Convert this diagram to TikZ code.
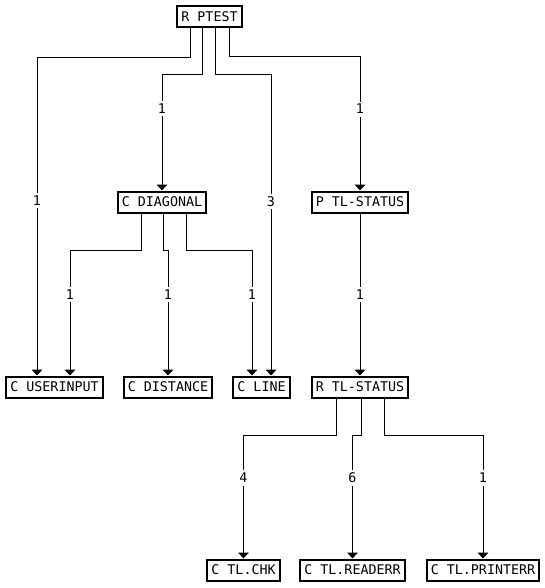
\documentclass[tikz,border=0pt]{standalone}
\usepackage{fontspec}
\setmonofont{DejaVu Sans Mono}
\usetikzlibrary{arrows.meta}

\begin{document}
\begin{tikzpicture}[
    x=0.75pt,y=-0.75pt,
    unit/.style={draw=black, line width=1.5pt, fill=white, font=\ttfamily, text height=7.3pt, text depth=0pt, inner xsep=3pt, inner ysep=0pt, minimum height=15.75pt},
    link/.style={draw=black, line width=0.75pt, -{Triangle[width=8pt,length=4.5pt]}},
    count/.style={font=\ttfamily, fill=white, inner sep=2pt}
  ]
    \useasboundingbox (0,0) rectangle (544,588);

    \node[unit] (ptest) at (209.5,17) {R PTEST};

    \node[unit] (diagonal) at (162,202) {C DIAGONAL};
    \node[unit] (pstatus) at (360,202) {P TL-STATUS};

    \node[unit] (userinput) at (54.5,387) {C USERINPUT};
    \node[unit] (distance) at (168,387) {C DISTANCE};
    \node[unit] (line) at (261.5,387) {C LINE};
    \node[unit] (rstatus) at (360,387) {R TL-STATUS};

    \node[unit] (tlchk) at (243.5,570) {C TL.CHK};
    \node[unit] (readerr) at (352.5,570) {C TL.READERR};
    \node[unit] (printerr) at (483,570) {C TL.PRINTERR};

    \draw[link] ([xshift=-14.25pt]ptest.south) -- ++(0,29.5) -| node[count, pos=0.724] {1} ([xshift=-13.125pt]userinput.north);
    \draw[link] ([xshift=-5.25pt]ptest.south) -- ++(0,46.5) -| node[count, pos=0.647] {1} (diagonal.north);
    \draw[link] ([xshift=4.5pt]ptest.south) -- ++(0,46.5) -| node[count, pos=0.710] {3} ([xshift=7.125pt]line.north);
    \draw[link] ([xshift=15pt]ptest.south) -- ++(0,28.5) -| node[count, pos=0.695] {1} (pstatus.north);

    \draw[link] ([xshift=-15.75pt]diagonal.south) -- ++(0,36.5) -| node[count, pos=0.679] {1} ([xshift=11.625pt]userinput.north);
    \draw[link] ([xshift=0.75pt]diagonal.south) -- ++(0,36.5) -| node[count, pos=0.679] {1} (distance.north);
    \draw[link] ([xshift=18pt]diagonal.south) -- ++(0,36.5) -| node[count, pos=0.679] {1} ([xshift=-7.125pt]line.north);

    \draw[link] (pstatus.south) -- node[count] {1} (rstatus.north);

    \draw[link] ([xshift=-18pt]rstatus.south) -- ++(0,36.5) -| node[count, pos=0.674] {4} (tlchk.north);
    \draw[link] ([xshift=0.75pt]rstatus.south) -- ++(0,36.5) -| node[count, pos=0.674] {6} (readerr.north);
    \draw[link] ([xshift=18pt]rstatus.south) -- ++(0,36.5) -| node[count, pos=0.674] {1} (printerr.north);
  \end{tikzpicture}
\end{document}
